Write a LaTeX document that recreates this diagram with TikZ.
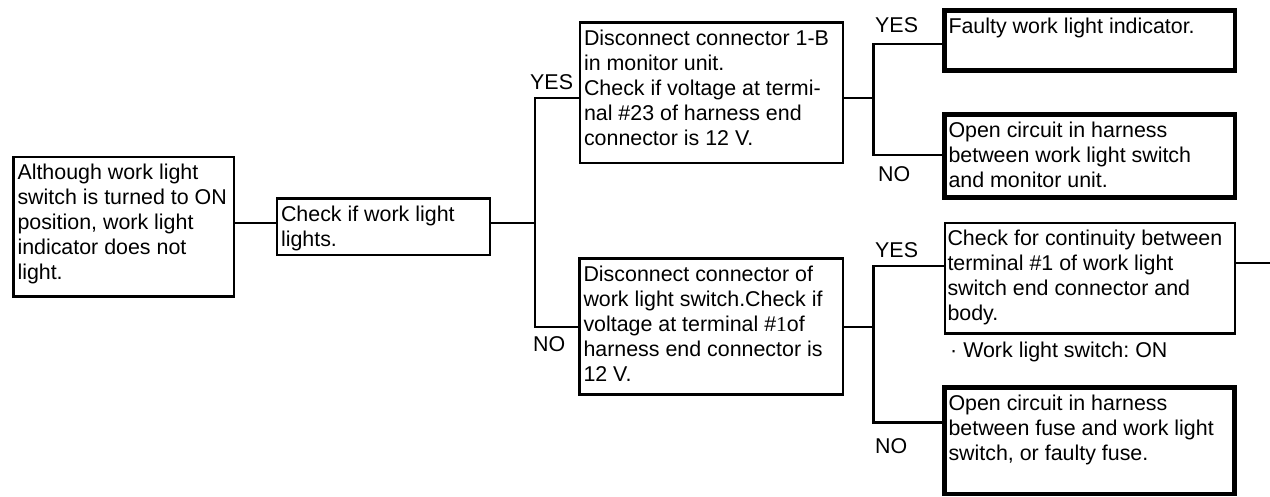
\documentclass[tikz,border=0pt]{standalone}
\usepackage{fontspec}
\setmainfont{Liberation Sans}
\newfontfamily\numfont{Liberation Serif}
\frenchspacing
% top-aligned text block of fixed width and height inside a box node
\newcommand\tbox[3]{\begin{minipage}[t][#2pt][t]{#1pt}\raggedright\strut#3\end{minipage}}
\begin{document}
\begin{tikzpicture}[x=1pt, y=-1pt,
  font=\fontsize{21.4}{25}\selectfont,
  thinbox/.style={draw, line width=2.6pt, inner xsep=4pt, inner ysep=5.5pt,
                  outer sep=0pt, anchor=north west},
  thickbox/.style={thinbox, line width=4.8pt},
  link/.style={line width=2.4pt},
  lbl/.style={inner sep=0pt, anchor=base west}]
\useasboundingbox (0,0) rectangle (1270,497);

% boxes
\node[thinbox] (A) at (13.5,157) {\tbox{212.5}{128.5}{Although work light\\
  switch is turned to ON\\ position, work light\\ indicator does not\\ light.}};
\node[thinbox] (B) at (277,198.5) {\tbox{205}{45.5}{Check if work light\\ lights.}};
\node[thinbox] (C) at (580,22.5) {\tbox{255}{129.5}{Disconnect connector 1-B\\
  in monitor unit.\\ Check if voltage at termi-\\ nal \#23 of harness end\\
  connector is 12 V.}};
\node[thinbox] (D) at (579.5,258.5) {\tbox{255.5}{125.2}{Disconnect connector of\\
  work light switch.Check if\\ voltage at terminal \#{\numfont 1}of\\
  harness end connector is\\ 12 V.}};
\node[thickbox] (E) at (944.5,10.5) {\tbox{282.5}{49.3}{Faulty work light indicator.}};
\node[thickbox] (F) at (944.5,114.5) {\tbox{282.5}{72}{Open circuit in harness\\
  between work light switch\\ and monitor unit.}};
\node[thinbox, inner xsep=2.5pt] (G) at (945,223) {\tbox{285}{99.3}{Check for continuity between\\
  terminal \#1 of work light\\ switch end connector and\\ body.}};
\node[thickbox] (H) at (944.5,387.5) {\tbox{282}{95.5}{Open circuit in harness\\
  between fuse and work light\\ switch, or faulty fuse.}};

% junction points
\coordinate (j1) at (534.7,223);
\coordinate (cy) at (534.7,98);
\coordinate (dy) at (534.7,327.3);
\coordinate (j2) at (873.3,98);
\coordinate (j3) at (873.3,327.3);
\coordinate (e1) at (873.3,44);
\coordinate (f1) at (873.3,155.3);
\coordinate (g1) at (873.3,266);
\coordinate (h1) at (873.3,422.3);
\coordinate (out) at (1270,263);

% connectors
\draw[link] (A.east |- j1) -- (B.west |- j1);
\draw[link] (B.east |- j1) -- (j1);
\draw[link] (C.west |- cy) -- (cy) -- (dy) -- (D.west |- dy);
\draw[link] (C.east |- j2) -- (j2);
\draw[link] (E.west |- e1) -- (e1) -- (f1) -- (F.west |- f1);
\draw[link] (D.east |- j3) -- (j3);
\draw[link] (G.west |- g1) -- (g1) -- (h1) -- (H.west |- h1);
\draw[link] (G.east |- out) -- (out);

% branch labels
\node[lbl] (yes1) at (530,90) {YES};
\node[lbl] (no1) at (533,352) {NO};
\node[lbl] (yes2) at (875,33) {YES};
\node[lbl] (no2) at (878,182) {NO};
\node[lbl] (yes3) at (875,258) {YES};
\node[lbl] (no3) at (875,453) {NO};
\node[lbl] (cond) at (950,357) {· Work light switch: ON};
\end{tikzpicture}
\end{document}
